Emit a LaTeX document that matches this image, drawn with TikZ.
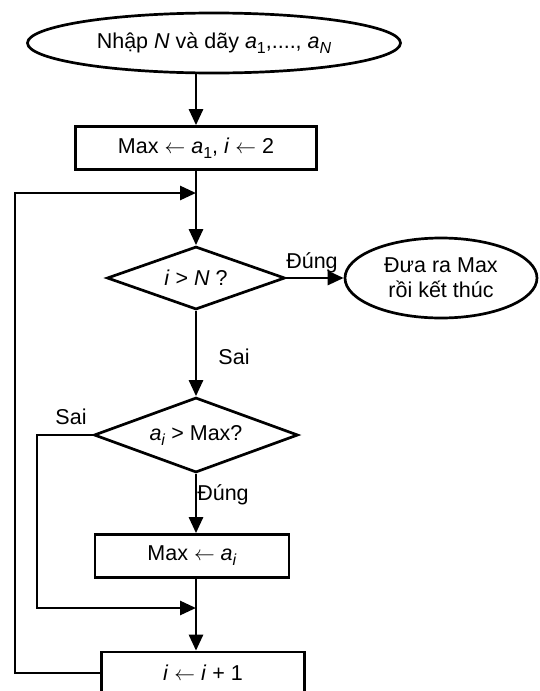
\documentclass[tikz,border=0pt]{standalone}
\usepackage{fontspec}
\setmainfont{Liberation Sans}
\usetikzlibrary{shapes.geometric}
\usetikzlibrary{arrows.meta}
\tikzset{
	block/.style={draw, rectangle, line width=2.7pt, inner sep=0pt},
	decision/.style={draw, diamond, aspect=2.8, line width=2.7pt, inner sep=0pt},
	terminal/.style={draw, ellipse, line width=2.7pt, inner sep=0pt, align=center},
	arr/.style={line width=2.7pt, -{Triangle[length=16pt,width=14pt]}},
	line/.style={line width=2.7pt},
	lbl/.style={inner sep=0pt}
}
\newcommand{\sub}[1]{\raisebox{-5pt}{\fontsize{16}{16}\selectfont #1}}

\begin{document}
\begin{tikzpicture}[x=1pt, y=-1pt, font=\fontsize{21.5}{25}\selectfont]
	\useasboundingbox (0,0) rectangle (540,691);
	\fill[white] (0,0) rectangle (540,691);
	
	% nodes
	\node[terminal, minimum width=373pt, minimum height=60pt] (start) at (214,43)
	{Nhập \textit{N} và dãy \textit{a}\sub{1},...., \textit{a}\sub{\textit{N}}};
	\node[block, minimum width=241pt, minimum height=43pt] (init) at (196,148)
	{Max $\leftarrow$ \textit{a}\sub{1}, \textit{i} $\leftarrow$ 2};
	\node[decision, minimum width=178pt, minimum height=63pt] (cond1) at (196,278)
	{\textit{i} > \textit{N} ?};
	\node[terminal, minimum width=192pt, minimum height=80pt] (stop) at (441,278)
	{Đưa ra Max\\rồi kết thúc};
	\node[decision, aspect=2.7, minimum width=204pt, minimum height=75pt] (cond2) at (196,435)
	{\textit{a}\sub{\textit{i}} > Max?};
	\node[block, minimum width=194pt, minimum height=43pt] (setmax) at (192,556)
	{Max $\leftarrow$ \textit{a}\sub{\textit{i}}};
	\node[block, minimum width=203pt, minimum height=42pt] (incr) at (203,673)
	{\textit{i} $\leftarrow$ \textit{i} + 1};
	
	% junctions
	\coordinate (loopin) at (196,193);
	\coordinate (loopl) at (15,193);
	\coordinate (sail) at (37,608);
	\coordinate (join) at (196,608);
	
	% connectors
	\draw[arr] (init.north |- start.south) -- (init.north);
	\draw[arr] (init.south) -- (cond1.north);
	\draw[arr] (cond1.east) -- (stop.west);
	\draw[arr] (cond1.south) -- (cond2.north);
	\draw[arr] (cond2.south) -- (cond2.south |- setmax.north);
	\draw[line] (setmax.south -| join) -- (join);
	\draw[arr] (join) -- (join |- incr.north);
	\draw[arr] (cond2.west) -| (sail) -- (join);
	\draw[arr] (incr.west) -| (loopl) -- (loopin);
	
	% labels
	\node[lbl] (yes1) at (312,263) {Đúng};
	\node[lbl] (no1) at (234,357) {Sai};
	\node[lbl] (no2) at (71,417) {Sai};
	\node[lbl] (yes2) at (223,495) {Đúng};
\end{tikzpicture}
\end{document}
